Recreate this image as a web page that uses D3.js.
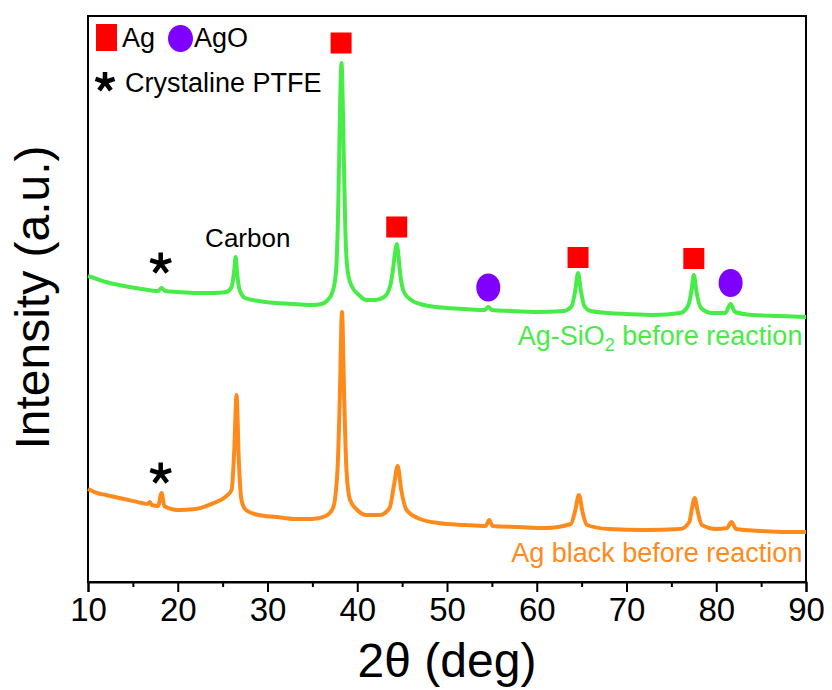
<!DOCTYPE html>
<html>
<head>
<meta charset="utf-8">
<script src="https://cdn.jsdelivr.net/npm/d3@7"></script>
<style>
  html, body { margin: 0; padding: 0; background: #fff; }
  svg { display: block; }
  text { font-family: "Liberation Sans", Arial, sans-serif; }
</style>
</head>
<body>
<svg id="chart" width="832" height="690"></svg>
<script>
// ---- Data (2θ in degrees, intensity in arbitrary units) ----
const agSiO2 = [[10,306],[11,303],[12,300],[14,296],[16,293],[17.8,291],[18.2,294],[18.6,291],[20,290],[22,289],[24,289],[25.4,290],[26.0,295],[26.3,312],[26.45,325],[26.6,310],[26.9,292],[27.5,284],[29,281],[31,279],[33,278],[35,277],[36,278],[36.6,281],[37.2,289],[37.6,307],[37.85,362],[38.0,432],[38.1,482],[38.25,519],[38.4,472],[38.55,402],[38.75,332],[39.0,307],[39.5,294],[40.2,287],[41.0,282],[42.0,282],[43.0,285],[43.7,297],[44.0,314],[44.25,332],[44.4,338],[44.55,330],[44.8,307],[45.2,290],[46,282],[47,278],[48,276],[50,274],[52,273],[54.2,272],[54.6,275],[55.0,272],[57,271],[60,270],[63,271],[63.9,276],[64.3,292],[64.6,309],[64.9,292],[65.3,276],[66,271],[68,269],[70,268],[73,267],[76,269],[76.9,277],[77.25,292],[77.5,307],[77.8,290],[78.3,274],[79.5,269],[81.0,269],[81.6,278],[82.1,270],[84,267],[87,266],[90,265]];

const agBlack = [[10,93],[11,89],[12,87],[14,83],[16,79],[16.6,78],[16.9,80],[17.1,77],[17.8,76],[18.2,89],[18.5,76],[20,72],[22,73],[24,79],[25.3,85],[26.0,92],[26.3,132],[26.55,187],[26.8,122],[27.1,82],[27.6,72],[29,67],[31,65],[33,63],[35,63],[36.5,66],[37.3,74],[37.8,112],[38.05,182],[38.3,270],[38.55,182],[38.8,112],[39.2,82],[40,72],[41,67],[42.5,67],[43.6,74],[44.1,97],[44.5,116],[44.9,92],[45.5,72],[47,63],[49,59],[52,57],[54.3,56],[54.7,62],[55.1,56],[58,55],[61,54],[63.8,58],[64.3,72],[64.7,87],[65.1,70],[65.6,57],[68,53],[72,52],[76,53],[77.0,60],[77.3,74],[77.6,84],[77.9,72],[78.4,57],[80,53],[81.2,54],[81.7,60],[82.2,53],[85,51],[88,50],[90,50]];

// Phase markers (angle, level)
const agMarkAngle = [38.2, 44.4, 64.6, 77.5];
const agMarkLevel = [539, 355, 324.5, 323.5];
const agoMarkAngle = [54.6, 81.6];
const agoMarkLevel = [294.5, 299];
const ptfeAngle = [18.1, 18.1];
const ptfeLevel = [318.5, 108.5];

const xTicks = [10, 20, 30, 40, 50, 60, 70, 80, 90];
const xMinorTicks = [15, 25, 35, 45, 55, 65, 75, 85];

const seriesNames = ["Ag-SiO", "Ag black before reaction"];
const colors = { green: "#48ec48", orange: "#ff8a1c", red: "#ff0000", purple: "#7f00ff" };

// ---- Layout ----
const svg = d3.select("#chart");
const L = 88, R = 806, T = 16, B = 582;
const x = d3.scaleLinear().domain([10, 90]).range([L, R]);
const y = d3.scaleLinear().domain([0, 566]).range([B, T]);

// Frame
svg.append("rect").attr("x", L).attr("y", T).attr("width", R - L).attr("height", B - T)
  .attr("fill", "none").attr("stroke", "#000").attr("stroke-width", 2);

// X axis
const xAxis = d3.axisBottom(x).tickValues(xTicks).tickSize(10).tickPadding(6).tickFormat(d3.format("d"));
const gx = svg.append("g").attr("transform", `translate(0,${B})`).call(xAxis);
gx.select(".domain").attr("stroke-width", 2);
gx.selectAll(".tick line").attr("stroke-width", 2);
gx.selectAll(".tick text").attr("font-size", 33).attr("fill", "#000")
  .attr("font-family", "'Liberation Sans', Arial, sans-serif");
const gxm = svg.append("g").attr("transform", `translate(0,${B})`)
  .call(d3.axisBottom(x).tickValues(xMinorTicks).tickSize(5).tickFormat(""));
gxm.select(".domain").remove();
gxm.selectAll(".tick line").attr("stroke-width", 2);

// Axis titles
svg.append("text").attr("x", (L + R) / 2).attr("y", 677).attr("text-anchor", "middle")
  .attr("font-size", 48).attr("fill", "#000").text("2θ (deg)");
svg.append("text").attr("transform", "translate(49,297.5) rotate(-90)").attr("text-anchor", "middle")
  .attr("font-size", 48).attr("fill", "#000").text("Intensity (a.u.)");

// Lines
const line = d3.line().x(d => x(d[0])).y(d => y(d[1])).curve(d3.curveMonotoneX);
svg.append("path").datum(agBlack).attr("d", line).attr("fill", "none")
  .attr("stroke", colors.orange).attr("stroke-width", 4).attr("stroke-linejoin", "round");
svg.append("path").datum(agSiO2).attr("d", line).attr("fill", "none")
  .attr("stroke", colors.green).attr("stroke-width", 4).attr("stroke-linejoin", "round");

// Asterisk path (5 arms)
function asteriskPath(cx, cy, r) {
  const p = d3.path();
  for (let k = 0; k < 5; k++) {
    const a = -Math.PI / 2 + k * 2 * Math.PI / 5;
    p.moveTo(cx, cy);
    p.lineTo(cx + r * Math.cos(a), cy + r * Math.sin(a));
  }
  return p.toString();
}

// Markers
const sq = 21;
svg.selectAll(".agm").data(agMarkAngle).enter().append("rect")
  .attr("x", d => x(d) - sq / 2).attr("y", (d, i) => y(agMarkLevel[i]) - sq / 2)
  .attr("width", sq).attr("height", sq).attr("fill", colors.red);
svg.selectAll(".agom").data(agoMarkAngle).enter().append("ellipse")
  .attr("cx", d => x(d)).attr("cy", (d, i) => y(agoMarkLevel[i]))
  .attr("rx", 12).attr("ry", 14).attr("fill", colors.purple);
svg.selectAll(".ptfe").data(ptfeAngle).enter().append("path")
  .attr("d", (d, i) => asteriskPath(x(d), y(ptfeLevel[i]), 11))
  .attr("stroke", "#000").attr("stroke-width", 4.5).attr("fill", "none");

// Annotations
svg.append("text").attr("x", x(27.8)).attr("y", y(335)).attr("text-anchor", "middle")
  .attr("font-size", 26).attr("fill", "#000").text("Carbon");

const tg = svg.append("text").attr("x", x(89.6)).attr("y", y(237)).attr("text-anchor", "end")
  .attr("font-size", 27).attr("fill", colors.green);
tg.append("tspan").text(seriesNames[0]);
tg.append("tspan").attr("font-size", 18).attr("dy", 6).text("2");
tg.append("tspan").attr("dy", -6).text(" before reaction");

svg.append("text").attr("x", x(89.6)).attr("y", y(20)).attr("text-anchor", "end")
  .attr("font-size", 27).attr("fill", colors.orange).text(seriesNames[1]);

// Legend
const lg = svg.append("g");
lg.append("rect").attr("x", 96).attr("y", 24).attr("width", 21).attr("height", 27).attr("fill", colors.red);
lg.append("text").attr("x", 122).attr("y", 47).attr("font-size", 27).attr("fill", "#000").text("Ag");
lg.append("ellipse").attr("cx", 180.5).attr("cy", 38.5).attr("rx", 12.5).attr("ry", 13.5).attr("fill", colors.purple);
lg.append("text").attr("x", 194).attr("y", 47).attr("font-size", 27).attr("fill", "#000").text("AgO");
lg.append("path").attr("d", asteriskPath(105, 82, 10)).attr("stroke", "#000").attr("stroke-width", 4.5).attr("fill", "none");
lg.append("text").attr("x", 125).attr("y", 92).attr("font-size", 27).attr("fill", "#000").text("Crystaline PTFE");
</script>
</body>
</html>
